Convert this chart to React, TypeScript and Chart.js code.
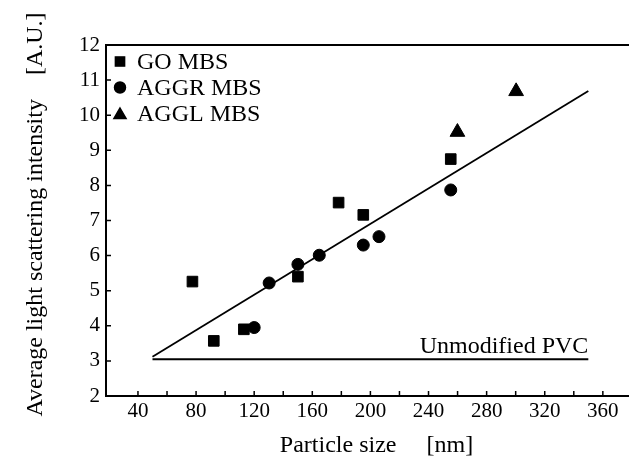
import React, { useEffect, useRef } from "react";
import { Chart, registerables } from "chart.js";
import { drawPoint } from "chart.js/helpers";

Chart.register(...registerables);

// ---- data ----
const X_TICKS = [40, 80, 120, 160, 200, 240, 280, 320, 360];
const X_MINOR_TICKS = [60, 100, 140, 180, 220, 260, 300, 340];
const Y_TICKS = [2, 3, 4, 5, 6, 7, 8, 9, 10, 11, 12];

const GO_X = [77.5, 92.2, 112.9, 150.1, 178.1, 195.1, 255.3];
const GO_Y = [5.26, 3.57, 3.9, 5.4, 7.51, 7.16, 8.75];

const AGGR_X = [120, 130.3, 150.1, 164.8, 195.1, 205.9, 255.3];
const AGGR_Y = [3.95, 5.22, 5.75, 6.01, 6.3, 6.54, 7.87];

const AGGL_X = [259.9, 300.3];
const AGGL_Y = [9.52, 10.68];

const FIT_X = [50, 350];
const FIT_Y = [3.12, 10.69];

const PVC_X = [50, 350];
const PVC_Y = [3.05, 3.05];

const SERIES_LABELS = ["GO MBS", "AGGR MBS", "AGGL MBS"];
const PVC_LABEL = "Unmodified PVC";
const X_TITLE = "   Particle size     [nm]";
const Y_TITLE = "  Average light scattering intensity    [A.U.]";

const FONT = "'Liberation Serif', 'Times New Roman', serif";

const pts = (xs: number[], ys: number[]) => xs.map((x, i) => ({ x, y: ys[i] }));

const decorPlugin = {
  id: "decor",
  afterDraw(chart: any) {
    const { ctx, chartArea } = chart;
    const xs = chart.scales.x;
    const ys = chart.scales.y;
    ctx.save();
    ctx.strokeStyle = "#000";
    ctx.fillStyle = "#000";
    // top border
    ctx.lineWidth = 2;
    ctx.beginPath();
    ctx.moveTo(chartArea.left, chartArea.top);
    ctx.lineTo(chartArea.right, chartArea.top);
    ctx.stroke();
    // inward ticks
    ctx.lineWidth = 1.5;
    ctx.beginPath();
    [...X_TICKS, ...X_MINOR_TICKS].forEach((v) => {
      const p = xs.getPixelForValue(v);
      ctx.moveTo(p, chartArea.bottom);
      ctx.lineTo(p, chartArea.bottom - 5);
    });
    Y_TICKS.slice(1, -1).forEach((v) => {
      const p = ys.getPixelForValue(v);
      ctx.moveTo(chartArea.left, p);
      ctx.lineTo(chartArea.left + 5, p);
    });
    ctx.stroke();
    // PVC label
    ctx.font = `24px ${FONT}`;
    ctx.textAlign = "right";
    ctx.textBaseline = "alphabetic";
    ctx.fillText(PVC_LABEL, xs.getPixelForValue(PVC_X[1]), ys.getPixelForValue(PVC_Y[1]) - 6);
    // legend
    const legendStyles = [
      { pointStyle: "rect", radius: 6.5 },
      { pointStyle: "circle", radius: 5.5 },
      { pointStyle: "triangle", radius: 7 },
    ];
    ctx.textAlign = "left";
    SERIES_LABELS.forEach((lab, i) => {
      const base = chartArea.top + 23.5 + i * 26;
      const st = legendStyles[i];
      drawPoint(ctx, { pointStyle: st.pointStyle, radius: st.radius, rotation: 0, borderWidth: 1 } as any, chartArea.left + 14, base - 7 + (i === 2 ? 1.5 : 0));
      ctx.fill();
      ctx.fillText(lab, chartArea.left + 31, base);
    });
    ctx.restore();
  },
};

export default function App() {
  const ref = useRef<HTMLCanvasElement>(null);
  useEffect(() => {
    const black = "#000";
    const chart = new Chart(ref.current!, {
      type: "scatter",
      data: {
        datasets: [
          {
            label: SERIES_LABELS[0],
            data: pts(GO_X, GO_Y),
            pointStyle: "rect",
            pointRadius: 7.5,
            backgroundColor: black,
            borderColor: black,
            borderWidth: 1,
          },
          {
            label: SERIES_LABELS[1],
            data: pts(AGGR_X, AGGR_Y),
            pointStyle: "circle",
            pointRadius: 6,
            backgroundColor: black,
            borderColor: black,
            borderWidth: 1,
          },
          {
            label: SERIES_LABELS[2],
            data: pts(AGGL_X, AGGL_Y),
            pointStyle: "triangle",
            pointRadius: 8.5,
            backgroundColor: black,
            borderColor: black,
            borderWidth: 1,
          },
          {
            label: "fit",
            data: pts(FIT_X, FIT_Y),
            showLine: true,
            pointRadius: 0,
            borderColor: black,
            borderWidth: 1.8,
            fill: false,
          },
          {
            label: PVC_LABEL,
            data: pts(PVC_X, PVC_Y),
            showLine: true,
            pointRadius: 0,
            borderColor: black,
            borderWidth: 2,
            fill: false,
          },
        ],
      } as any,
      options: {
        animation: false,
        responsive: true,
        maintainAspectRatio: false,
        events: [],
        layout: { autoPadding: false, padding: { top: 45, right: 0, left: 0, bottom: 0 } },
        plugins: { legend: { display: false }, tooltip: { enabled: false } },
        scales: {
          x: {
            type: "linear",
            min: 18,
            max: 378,
            afterBuildTicks: (s: any) => {
              s.ticks = X_TICKS.map((v) => ({ value: v }));
            },
            afterFit: (s: any) => {
              s.height = 64;
              s.paddingLeft = 0;
              s.paddingRight = 0;
            },
            grid: { display: false, drawTicks: false },
            border: { display: true, color: black, width: 2 },
            ticks: {
              color: black,
              font: { family: FONT, size: 21 },
              padding: 3,
              maxRotation: 0,
              autoSkip: false,
            },
            title: {
              display: true,
              text: X_TITLE,
              color: black,
              font: { family: FONT, size: 24 },
              padding: { top: 0, bottom: 0 },
            },
          },
          y: {
            type: "linear",
            min: 2,
            max: 12,
            afterBuildTicks: (s: any) => {
              s.ticks = Y_TICKS.map((v) => ({ value: v }));
            },
            afterFit: (s: any) => {
              s.width = 106;
              s.paddingTop = 0;
              s.paddingBottom = 0;
            },
            grid: { display: false, drawTicks: false },
            border: { display: true, color: black, width: 2 },
            ticks: {
              color: black,
              font: { family: FONT, size: 21 },
              padding: 6,
              autoSkip: false,
            },
            title: {
              display: true,
              text: Y_TITLE,
              color: black,
              font: { family: FONT, size: 24 },
              padding: { top: 21, bottom: 0 },
            },
          },
        },
      } as any,
      plugins: [decorPlugin],
    });
    return () => chart.destroy();
  }, []);
  return (
    <div style={{ position: "fixed", left: 0, top: 0, width: 629, height: 460, background: "#fff" }}>
      <canvas ref={ref} />
    </div>
  );
}
